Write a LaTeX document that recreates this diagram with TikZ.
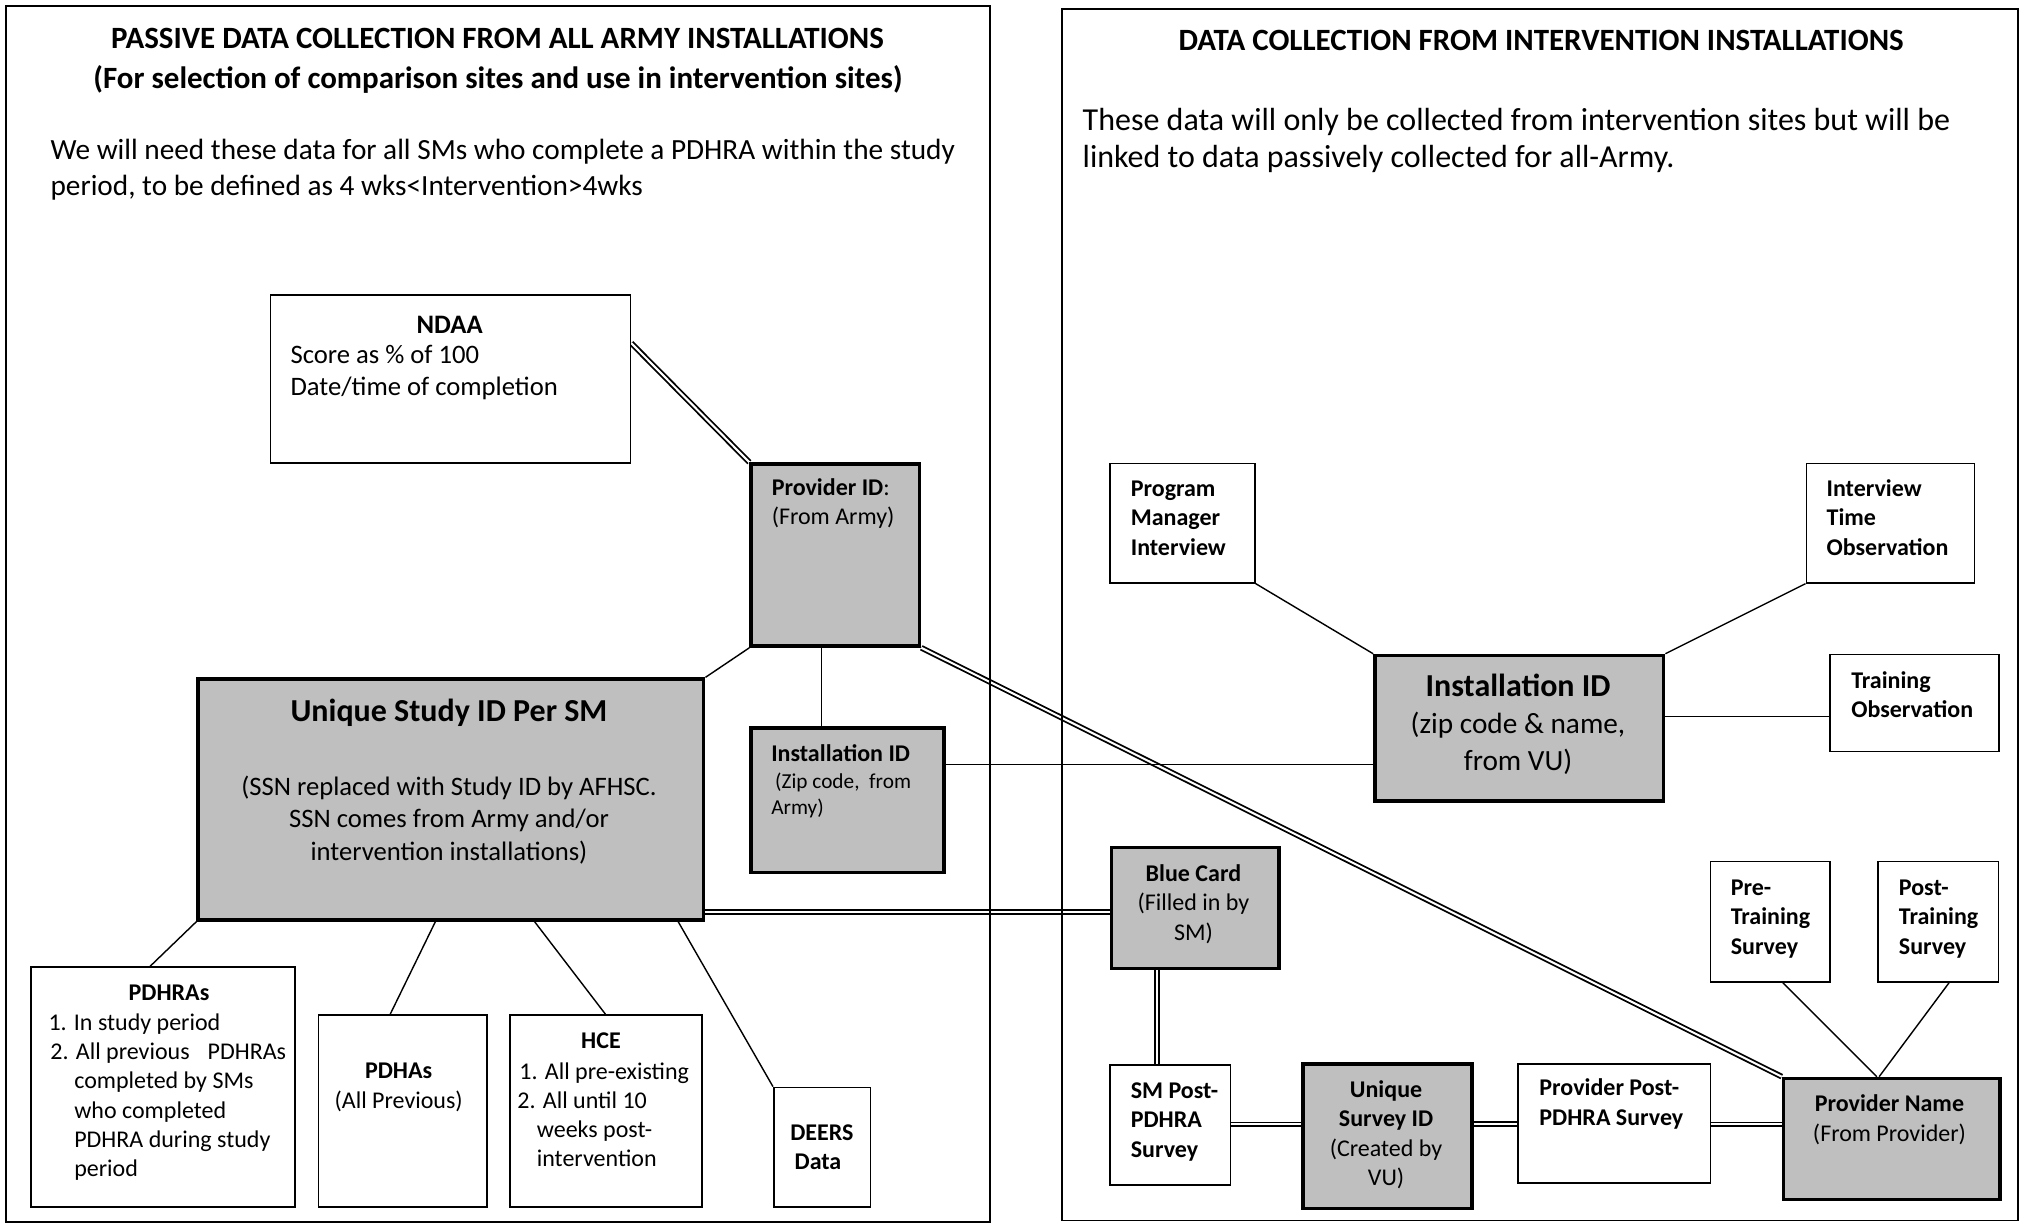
\documentclass[tikz,border=0pt]{standalone}
\usepackage{fontspec}
\setmainfont{Carlito}
\usetikzlibrary{calc,backgrounds}
\newcommand\fs[1]{\fontsize{#1}{#1}\selectfont}
\begin{document}
\begin{tikzpicture}[x=1pt,y=-1pt,
  panel/.style={draw,line width=1.5pt},
  wbox/.style={draw,line width=1.3pt,fill=white,anchor=north west,inner sep=0pt},
  gbox/.style={draw,line width=2.8pt,fill=black!25,anchor=north west,inner sep=0pt},
  link/.style={line width=1.1pt},
  dlink/.style={draw=black,double=white,double distance=1.6pt,line width=1.4pt},
  tl/.style={inner sep=0pt,anchor=mid west},
  tc/.style={inner sep=0pt,anchor=mid},
  ftitle/.style={font=\fs{24}\bfseries,yshift=-6pt},
  fbodyL/.style={font=\fs{22.7},yshift=-5.5pt},
  fbodyR/.style={font=\fs{24.8},yshift=-6pt},
  fbig/.style={font=\fs{24.8}\bfseries,yshift=-4.5pt},
  fmid/.style={font=\fs{20.66},yshift=-5pt},
  fmidb/.style={font=\fs{20.66}\bfseries,yshift=-5pt},
  fsub/.style={font=\fs{22.7},yshift=-5pt},
  flbl/.style={font=\fs{18.6}\bfseries,yshift=-3.5pt},
  flblr/.style={font=\fs{18.6},yshift=-3.5pt},
  fsm/.style={font=\fs{16.5},yshift=-3pt}
]
\useasboundingbox (0,0) rectangle (1568,949);
\begin{pgfonlayer}{background}
  \fill[white] (0,0) rectangle (1568,949);
\end{pgfonlayer}

% panels
\draw[panel] (5,5) rectangle (767,947);
\draw[panel] (823,7) rectangle (1564,946);

% panel texts
\node[tc,ftitle] (tL1) at (385.6,29) {PASSIVE DATA COLLECTION FROM ALL ARMY INSTALLATIONS};
\node[tc,ftitle] (tL2) at (386,60) {(For selection of comparison sites and use in intervention sites)};
\node[tl,fbodyL] (bL1) at (39,116) {We will need these data for all SMs who complete a PDHRA within the study};
\node[tl,fbodyL] (bL2) at (39,143.5) {period, to be defined as 4 wks<Intervention>4wks};
\node[tc,ftitle] (tR1) at (1194.5,30.4) {DATA COLLECTION FROM INTERVENTION INSTALLATIONS};
\node[tl,fbodyR] (bR1) at (839,92.4) {These data will only be collected from intervention sites but will be};
\node[tl,fbodyR] (bR2) at (839,121.6) {linked to data passively collected for all-Army.};

% boxes
\node[wbox,minimum width=279pt,minimum height=130pt] (ndaa) at (209,228) {};
\node[gbox,minimum width=130.5pt,minimum height=141pt] (provid) at (580.8,358.3) {};
\node[gbox,minimum width=391.7pt,minimum height=186.5pt] (study) at (152.3,525) {};
\node[gbox,minimum width=149.8pt,minimum height=112pt] (instL) at (580.6,563) {};
\node[wbox,minimum width=204.7pt,minimum height=186pt] (pdhras) at (23.5,749) {};
\node[wbox,minimum width=130.9pt,minimum height=149pt] (pdhas) at (246.1,786) {};
\node[wbox,minimum width=148.8pt,minimum height=149pt] (hce) at (394.9,786) {};
\node[wbox,minimum width=74.9pt,minimum height=92.8pt] (deers) at (599.1,842.2) {};
\node[wbox,minimum width=112.4pt,minimum height=92.4pt] (pmi) at (859.6,358.7) {};
\node[wbox,minimum width=130.4pt,minimum height=92.4pt] (ito) at (1399.4,358.7) {};
\node[gbox,minimum width=223.7pt,minimum height=112.7pt] (instR) at (1064.3,506.7) {};
\node[wbox,minimum width=130.8pt,minimum height=75pt] (train) at (1418,506.7) {};
\node[gbox,minimum width=130pt,minimum height=93.7pt] (blue) at (860,655.5) {};
\node[wbox,minimum width=92.8pt,minimum height=93.4pt] (pre) at (1325.2,667) {};
\node[wbox,minimum width=93.4pt,minimum height=93.4pt] (post) at (1455,667) {};
\node[wbox,minimum width=93.4pt,minimum height=93pt] (smpost) at (859.6,824.7) {};
\node[gbox,minimum width=130.9pt,minimum height=111.9pt] (usid) at (1008.6,823.4) {};
\node[wbox,minimum width=149pt,minimum height=92.4pt] (ppost) at (1176,824) {};
\node[gbox,minimum width=167.6pt,minimum height=93.8pt] (pname) at (1381,834.5) {};

% box texts
\node[tc,fmidb] (ndaa1) at (348.5,251) {NDAA};
\node[tl,fmid] (ndaa2) at (225,274) {Score as \% of 100};
\node[tl,fmid] (ndaa3) at (225,299) {Date/time of completion};

\node[tl,flbl] (provid1) at (598,378) {Provider ID\mdseries:};
\node[tl,flblr] (provid2) at (598,401) {(From Army)};

\node[tc,fbig] (study1) at (348,552) {Unique Study ID Per SM};
\node[tc,fmid] (study2) at (348,609.4) {(SSN replaced with Study ID by AFHSC.};
\node[tc,fmid] (study3) at (348,634.3) {SSN comes from Army and/or};
\node[tc,fmid] (study4) at (348,659.4) {intervention installations)};

\node[tl,flbl] (instL1) at (597.6,584) {Installation ID};
\node[tl,fsm] (instL2) at (600.6,606) {(Zip code,\ \ from};
\node[tl,fsm] (instL3) at (597.6,625.6) {Army)};

\node[tc,flbl] (pdhras1) at (131,769.3) {PDHRAs};
\node[tl,flblr] (pdhras2) at (37.4,793) {1. In study period};
\node[tl,flblr] (pdhras3) at (38.9,815.4) {2. All previous\hspace{0.75em}PDHRAs};
\node[tl,flblr] (pdhras4) at (57.4,838) {completed by SMs};
\node[tl,flblr] (pdhras5) at (57.4,860.8) {who completed};
\node[tl,flblr] (pdhras6) at (57.4,883.3) {PDHRA during study};
\node[tl,flblr] (pdhras7) at (57.4,905.9) {period};

\node[tc,flbl] (pdhas1) at (309,830) {PDHAs};
\node[tc,flblr] (pdhas2) at (309,853.2) {(All Previous)};

\node[tc,flbl] (hce1) at (465.8,807) {HCE};
\node[tl,flblr] (hce2) at (402.4,830.7) {1. All pre-existing};
\node[tl,flblr] (hce3) at (400.9,853.2) {2. All until 10};
\node[tl,flblr] (hce4) at (415.9,875.5) {weeks post-};
\node[tl,flblr] (hce5) at (415.9,898.6) {intervention};

\node[tc,flbl] (deers1) at (637,878.3) {DEERS};
\node[tc,flbl] (deers2) at (634,900.3) {Data};

\node[tl,flbl] (pmi1) at (876.3,379) {Program};
\node[tl,flbl] (pmi2) at (876.3,401.3) {Manager};
\node[tl,flbl] (pmi3) at (876.3,424.4) {Interview};

\node[tl,flbl] (ito1) at (1415.6,379) {Interview};
\node[tl,flbl] (ito2) at (1415.6,401.3) {Time};
\node[tl,flbl] (ito3) at (1415.6,424.4) {Observation};

\node[tc,fbig] (instR1) at (1176.6,533) {Installation ID};
\node[tc,fsub] (instR2) at (1176.6,561.4) {(zip code \& name,};
\node[tc,fsub] (instR3) at (1176.6,589.8) {from VU)};

\node[tl,flbl] (train1) at (1434.7,527.8) {Training};
\node[tl,flbl] (train2) at (1434.7,550) {Observation};

\node[tc,flbl] (blue1) at (925,677) {Blue Card};
\node[tc,flblr] (blue2) at (925,700) {(Filled in by};
\node[tc,flblr] (blue3) at (925,723.4) {SM)};

\node[tl,flbl] (pre1) at (1341.3,688.5) {Pre-};
\node[tl,flbl] (pre2) at (1341.3,711) {Training};
\node[tl,flbl] (pre3) at (1341.3,733.7) {Survey};

\node[tl,flbl] (post1) at (1471.6,688.5) {Post-};
\node[tl,flbl] (post2) at (1471.6,711) {Training};
\node[tl,flbl] (post3) at (1471.6,733.7) {Survey};

\node[tl,flbl] (smpost1) at (876.3,845.3) {SM Post-};
\node[tl,flbl] (smpost2) at (876.3,868) {PDHRA};
\node[tl,flbl] (smpost3) at (876.3,891.4) {Survey};

\node[tc,flbl] (usid1) at (1074.3,845) {Unique};
\node[tc,flbl] (usid2) at (1074.3,867.3) {Survey ID};
\node[tc,flblr] (usid3) at (1074.3,890.6) {(Created by};
\node[tc,flblr] (usid4) at (1074.3,912.8) {VU)};

\node[tl,flbl] (ppost1) at (1193,843.5) {Provider Post-};
\node[tl,flbl] (ppost2) at (1193,866.3) {PDHRA Survey};

\node[tc,flbl] (pname1) at (1464.5,855.9) {Provider Name};
\node[tc,flblr] (pname2) at (1464.5,878.9) {(From Provider)};

% connectors
\begin{pgfonlayer}{background}
  % double connectors
  \coordinate (d1) at ($(ndaa.north east)+(0,38)$);
  \draw[dlink] (d1) -- (provid.north west);
  \draw[dlink] (provid.south east) -- (pname.north west);
  \coordinate (d2) at ($(study.south east)+(0,-7.3)$);
  \draw[dlink] (d2) -- (d2 -| blue.west);
  \coordinate (d3) at ($(blue.south west)+(36.8,0)$);
  \draw[dlink] (d3) -- (d3 |- smpost.north);
  \coordinate (d4) at ($(smpost.north east)+(0,46.8)$);
  \draw[dlink] (d4) -- (d4 -| usid.west);
  \coordinate (d5) at ($(usid.north east)+(0,47.6)$);
  \draw[dlink] (d5) -- (d5 -| ppost.west);
  \coordinate (d6) at ($(ppost.north east)+(0,47.5)$);
  \draw[dlink] (d6) -- (d6 -| pname.west);
  % single connectors
  \draw[link] (study.north east) -- (provid.south west);
  \coordinate (s1) at ($(provid.south west)+(56,0)$);
  \draw[link] (s1) -- (s1 |- instL.north);
  \coordinate (s2) at ($(instL.north east)+(0,29.6)$);
  \draw[link] (s2) -- (s2 -| instR.west);
  \draw[link] (study.south west) -- ($(pdhras.north west)+(92.8,0)$);
  \draw[link] ($(study.south west)+(185.2,0)$) -- ($(pdhas.north west)+(56.4,0)$);
  \draw[link] ($(study.south west)+(262,0)$) -- ($(hce.north west)+(74.3,0)$);
  \draw[link] ($(study.south west)+(373.3,0)$) -- (deers.north west);
  \draw[link] (pmi.south east) -- (instR.north west);
  \draw[link] (ito.south west) -- (instR.north east);
  \coordinate (s3) at ($(instR.north east)+(0,48.6)$);
  \draw[link] (s3) -- (s3 -| train.west);
  \draw[link] ($(pre.south west)+(56.6,0)$) -- ($(pname.north west)+(73.7,0)$);
  \draw[link] ($(post.south west)+(55.7,0)$) -- ($(pname.north west)+(75.5,0)$);
\end{pgfonlayer}
\end{tikzpicture}
\end{document}
